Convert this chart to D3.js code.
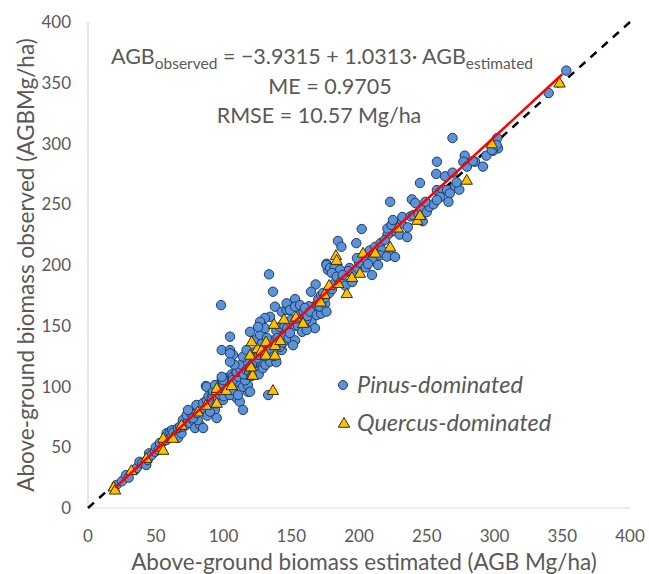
<!DOCTYPE html>
<html><head><meta charset="utf-8">
<script src="https://cdn.jsdelivr.net/npm/d3@7"></script>
<style>body{margin:0;background:#fff}svg{display:block}text{font-family:Lato,"Noto Sans",sans-serif;fill:#595959}</style>
</head><body><svg id="c" width="649" height="574"></svg>
<script>
const xTicks=[0,50,100,150,200,250,300,350,400];
const yTicks=[0,50,100,150,200,250,300,350,400];
const intercept=-3.9315, slope=1.0313;
const fitRange=[20,350];
const pinus=[[21,19],[25,22],[28,27],[30,25],[34.7,31.3],[36,33],[38,38],[40,37],[43,35.4],[44,39.5],[45,45],[47,43.6],[49.4,46.3],[50,50],[52,47.7],[53,53.5],[56,55],[58,56],[58,61.5],[60.5,62.8],[61.7,58.7],[62,64],[63,62],[65,60],[66.4,57.6],[69,61.5],[66.4,65.8],[68,67],[70,67],[70,72.4],[72,68],[74,72],[72.8,76.5],[75.3,70],[76,78],[78,72],[79,65.8],[82.7,68.3],[85,65.8],[81,72.4],[77.5,74],[73.8,80.7],[80.2,78],[83,80],[84,85],[86,82],[88,76],[88,87],[80,84.8],[85,86.4],[87.6,88.9],[89,92],[91.3,90.5],[92,93],[90,83.4],[93.7,80.7],[95,74],[90,79.3],[92.3,86.4],[95,86.2],[96,90],[99.7,88.9],[97.4,93],[101,95.7],[87,100.4],[87.6,99.8],[92.3,95.7],[93.7,101.2],[98,99],[98.7,105.3],[100,102],[102.4,107],[103,104],[107,101.2],[106,94.6],[100,92],[103,96],[104,100],[106,110],[109.7,90.5],[111,104],[112,87.5],[114.4,80.7],[118,95.7],[107,108],[109.7,111],[104.8,93],[107,97],[110.7,93],[114.4,99.8],[118,101.2],[119.6,95.7],[107,105.3],[99.7,105.3],[98.7,108],[110.7,108],[115.9,108],[116,105],[109.7,112],[113.4,112],[112,115],[113,118],[115,110],[117,113.6],[119,112],[108,118],[118,120],[124.5,116.3],[125.5,112],[126,110],[129,115],[128,120.4],[131,118],[123,120],[134.3,120.4],[139,120],[124.5,123],[121,118],[114.4,124.5],[122,128],[126,126],[129,128],[132,131],[117,130],[123,138],[128,135],[134,136],[137,138],[140,135],[127,142.4],[132,140],[135,130],[143,130],[141.7,132.7],[144,136],[142,143],[98.2,167],[104.8,141],[98.7,130],[104.8,130],[107,126],[104.8,120.4],[104.8,127.3],[119.6,145],[133.6,192.3],[136.5,178],[138,165.7],[133,93],[143,161.6],[146.6,163],[134.3,157.4],[130.6,156.4],[127,153.3],[130.6,148],[125.5,149],[139,146],[141.7,149],[140,140],[145,142],[145,150],[147,148],[148,140],[149,153.3],[150,155],[153,150],[155,150],[158,145],[165,153.3],[167.5,148],[161.4,146.5],[161,155],[149,144],[152.8,138],[151.3,134],[154,156],[156,158],[157,160],[159,162],[162,158],[163,166],[166,163],[152.8,172],[147.6,167],[146.6,168.5],[149,163],[152.8,165.7],[156.5,167],[160,164.6],[164,161.6],[168.8,158.8],[169,168],[172,160],[171,165.7],[175,168],[175,173],[176,161.6],[170,172],[172,175],[168,184],[164.6,178],[173.5,177],[178,177],[180,180],[176,201],[177,196],[130.6,125],[137.3,125],[119.6,116.3],[120.8,108.6],[176,200],[178.6,197.5],[182,198],[182,185],[185,188],[188,186],[193,197.5],[192,195],[196,193],[199,197.5],[200,202],[204,206],[209.6,191.8],[186,196],[180,193.4],[183.5,190.4],[188,191.8],[190,183],[195,186],[205,198],[208,212],[210,205],[212,215],[214,200],[216,218],[184.5,219.8],[187,215],[198,218],[202,229.6],[198.5,205.7],[206.6,200.8],[217,212],[215.5,208],[223,208],[220.5,207],[226.6,206.6],[226,228],[230,225],[221,225],[219,220.6],[235.5,223],[221,230],[231,234],[236,231],[224,233],[225,237],[232,239.5],[238,240],[240,241],[244,242],[247,236],[246,246],[250,243.6],[252,248],[255,250],[223,252],[239,254],[241.5,251],[249,252],[245,267.5],[257.5,261.7],[262,262],[265,261.7],[267,259],[260,256],[257.5,253.5],[266,252],[271,265],[274,262],[257,275],[263.5,273],[269,276],[272,268],[257.5,285],[269,304.5],[278,290],[277,285],[285.6,285],[291.5,281],[279.7,281],[284,285.5],[302,304.5],[302.6,296],[299,294],[294,290],[298,294.6],[301.6,298.7],[340,341.5],[353,360]];
const quercus=[[19,17.5],[20,15],[32,31],[43,41],[54,50.5],[55.5,47.7],[55.5,57.6],[62.7,57.6],[69,68.3],[81,79.3],[87,84.8],[95,86.4],[95,97],[102,97],[106,101],[95,98.7],[120.8,109.5],[121.5,109.5],[120.3,116.3],[119.6,126],[125,131.4],[128,130],[131.4,126],[138,126],[138,134],[120.8,137],[131.4,137],[142,138],[137.3,151.4],[144.6,155.5],[153.5,157.4],[158.7,152.2],[136.5,97],[171.7,169.8],[174.5,176],[178,183.5],[184.7,185],[191,176.7],[194.8,190],[200.7,193.4],[183,208],[183.5,204],[203,210],[212,210],[223,215],[228.5,230.7],[243,237],[245,241],[279.5,270],[298,300],[348,350]];

const svg=d3.select("#c");
const x=d3.scaleLinear().domain([0,400]).range([88,630]);
const y=d3.scaleLinear().domain([0,400]).range([508,22]);

svg.append("line").attr("x1",x(0)).attr("x2",x(400)).attr("y1",y(0)).attr("y2",y(0)).attr("stroke","#d9d9d9").attr("stroke-width",1.2);
svg.append("line").attr("x1",x(0)).attr("x2",x(0)).attr("y1",y(0)).attr("y2",y(400)).attr("stroke","#d9d9d9").attr("stroke-width",1.2);

svg.selectAll(".xt").data(xTicks).enter().append("text").attr("x",d=>x(d)).attr("y",542).attr("text-anchor","middle").attr("font-size",17).text(d=>d);
svg.selectAll(".yt").data(yTicks).enter().append("text").attr("x",71).attr("y",d=>y(d)+6).attr("text-anchor","end").attr("font-size",17).text(d=>d);

svg.append("line").attr("x1",x(0)).attr("y1",y(0)).attr("x2",x(400)).attr("y2",y(400)).attr("stroke","#000").attr("stroke-width",2.5).attr("stroke-dasharray","8,7");

const g=svg.append("g");
g.selectAll("circle").data(pinus).enter().append("circle").attr("cx",d=>x(d[0])).attr("cy",d=>y(d[1])).attr("r",4.7).attr("fill","#5b93d8").attr("stroke","#1f3a68").attr("stroke-width",1);
const tri=d3.symbol().type(d3.symbolTriangle).size(56);
g.selectAll("path.t").data(quercus).enter().append("path").attr("class","t").attr("d",tri).attr("transform",d=>`translate(${x(d[0])},${y(d[1])+1})`).attr("fill","#ffc000").attr("stroke","#3b3000").attr("stroke-width",1);

svg.append("line").attr("x1",x(fitRange[0])).attr("y1",y(intercept+slope*fitRange[0])).attr("x2",x(fitRange[1])).attr("y2",y(intercept+slope*fitRange[1])).attr("stroke","#ff0000").attr("stroke-width",2.5);

const eq=svg.append("text").attr("x",322).attr("y",64).attr("text-anchor","middle").attr("font-size",21.5);
eq.append("tspan").text("AGB");
eq.append("tspan").attr("font-size",15.5).attr("dy",5).text("observed");
eq.append("tspan").attr("dy",-5).text(" = −3.9315 + 1.0313· AGB");
eq.append("tspan").attr("font-size",15.5).attr("dy",5).text("estimated");
svg.append("text").attr("x",330).attr("y",94).attr("text-anchor","middle").attr("font-size",21.5).text("ME = 0.9705");
svg.append("text").attr("x",319).attr("y",123).attr("text-anchor","middle").attr("font-size",21.5).text("RMSE = 10.57 Mg/ha");

svg.append("circle").attr("cx",343).attr("cy",385).attr("r",4.5).attr("fill","#5b93d8").attr("stroke","#1f3a68");
svg.append("path").attr("d",tri).attr("transform","translate(344,424)").attr("fill","#ffc000").attr("stroke","#3b3000");
svg.append("text").attr("x",357).attr("y",393).attr("font-size",23.5).attr("font-style","italic").text("Pinus-dominated");
svg.append("text").attr("x",357).attr("y",431).attr("font-size",23.5).attr("font-style","italic").text("Quercus-dominated");

svg.append("text").attr("x",364).attr("y",570).attr("text-anchor","middle").attr("font-size",22.5).text("Above-ground biomass estimated (AGB Mg/ha)");
svg.append("text").attr("transform","translate(34,265) rotate(-90)").attr("text-anchor","middle").attr("font-size",22.5).text("Above-ground biomass observed (AGBMg/ha)");
</script></body></html>
